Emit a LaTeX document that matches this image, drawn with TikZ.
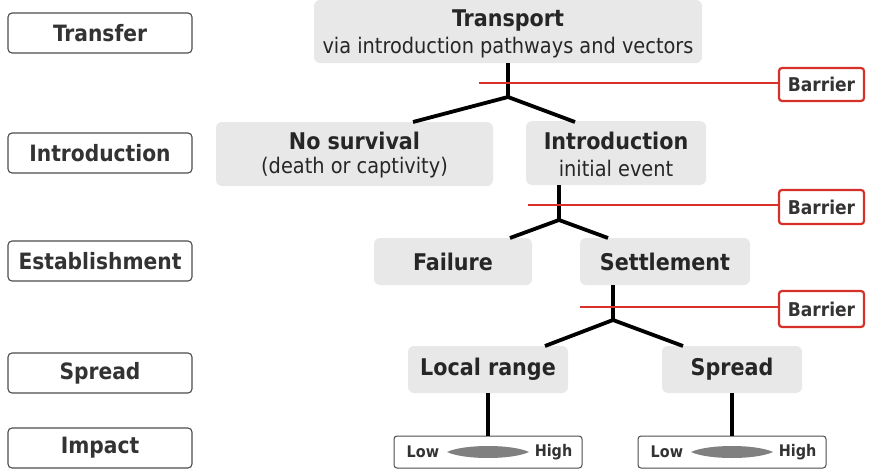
\documentclass[tikz,border=0pt]{standalone}
\usepackage{fontspec}
\setmainfont{DejaVu Sans Condensed}
\definecolor{barred}{RGB}{214,48,40}
\definecolor{gfill}{RGB}{232,232,232}
\begin{document}
\begin{tikzpicture}[x=1pt,y=-1pt,
  stage/.style={draw=black!70,line width=1.1pt,rounded corners=4pt,fill=white,font=\fontsize{22.5}{24}\selectfont\bfseries,text=black!80},
  gnode/.style={fill=gfill,rounded corners=6pt,align=center,text=black!85},
  barrierbox/.style={draw=barred,line width=2.2pt,rounded corners=3pt,fill=white,font=\fontsize{19}{21}\selectfont\bfseries,text=black!80},
  lhbox/.style={draw=black!70,line width=1pt,rounded corners=3pt,fill=white},
  lhtext/.style={font=\fontsize{16}{18}\selectfont\bfseries,text=black!80},
  tree/.style={line width=3.8pt,black},
  redline/.style={line width=2pt,barred},
  ttl/.style={font=\fontsize{23}{25}\selectfont\bfseries,text=black!85},
  sub/.style={font=\fontsize{21.5}{23}\selectfont,text=black!85}
]
\useasboundingbox (0,0) rectangle (879,471);
% stage labels
\node[stage,minimum width=184pt,minimum height=40pt] (s1) at (100,33) {Transfer};
\node[stage,minimum width=184pt,minimum height=40pt] (s2) at (100,153) {Introduction};
\node[stage,minimum width=184pt,minimum height=40pt] (s3) at (100,261) {Establishment};
\node[stage,minimum width=184pt,minimum height=40pt] (s4) at (100,373) {Spread};
\node[stage,minimum width=184pt,minimum height=40pt] (s5) at (100,448) {Impact};
% gray nodes
\node[gnode,minimum width=388pt,minimum height=63pt] (tr) at (508,31.5) {};
\node[ttl] at (508,21) {Transport};
\node[sub] at (508,48) {via introduction pathways and vectors};
\node[gnode,minimum width=277pt,minimum height=64pt] (ns) at (354.5,154) {};
\node[ttl] at (354.5,141) {No survival};
\node[sub] at (354.5,168) {(death or captivity)};
\node[gnode,minimum width=180pt,minimum height=64pt] (in) at (616,153) {};
\node[ttl] at (616,141) {Introduction};
\node[sub] at (616,168) {initial event};
\node[gnode,minimum width=158pt,minimum height=47pt,ttl] (fa) at (453,261.5) {Failure};
\node[gnode,minimum width=170pt,minimum height=47pt,ttl] (se) at (665,261.5) {Settlement};
\node[gnode,minimum width=160pt,minimum height=47pt,ttl] (lr) at (488,369.5) {Local range};
\node[gnode,minimum width=140pt,minimum height=47pt,ttl] (sp) at (732,369.5) {Spread};
% impact boxes
\node[lhbox,minimum width=188pt,minimum height=32pt] (i1) at (488,452) {};
\node[lhbox,minimum width=188pt,minimum height=32pt] (i2) at (732,452) {};
\foreach \b/\c in {i1/488,i2/732}{
  \node[lhtext,anchor=west,inner sep=0pt] at ([xshift=13pt]\b.west) {Low};
  \node[lhtext,anchor=east,inner sep=0pt] at ([xshift=-10pt]\b.east) {High};
  \fill[black!50] (\c-41,452) .. controls (\c-24,444) and (\c+24,444) .. (\c+41,452)
     .. controls (\c+24,460) and (\c-24,460) .. (\c-41,452) -- cycle;
}
% barriers
\node[barrierbox,minimum width=85pt,minimum height=33pt] (b1) at (821.5,84.5) {Barrier};
\node[barrierbox,minimum width=85pt,minimum height=34pt] (b2) at (821.5,207) {Barrier};
\node[barrierbox,minimum width=85pt,minimum height=36pt] (b3) at (821.5,309) {Barrier};
% tree 1
\coordinate (j1) at (508,97);
\draw[tree] (tr.south -| j1) -- (j1);
\draw[tree] (413,122) -- (j1) -- (575,122);
\coordinate (r1) at (479,83);
\draw[redline] (r1) -- (r1 -| b1.west);
% tree 2
\coordinate (j2) at (559,220);
\draw[tree] (in.south -| j2) -- (j2);
\draw[tree] (510,238) -- (j2) -- (608,238);
\coordinate (r2) at (528,205);
\draw[redline] (r2) -- (r2 -| b2.west);
% tree 3
\coordinate (j3) at (613,320);
\draw[tree] (se.south -| j3) -- (j3);
\draw[tree] (545,346) -- (j3) -- (683,346);
\coordinate (r3) at (580,307);
\draw[redline] (r3) -- (r3 -| b3.west);
% impact lines
\draw[tree] (lr.south) -- (i1.north);
\draw[tree] (sp.south) -- (i2.north);
\end{tikzpicture}
\end{document}
